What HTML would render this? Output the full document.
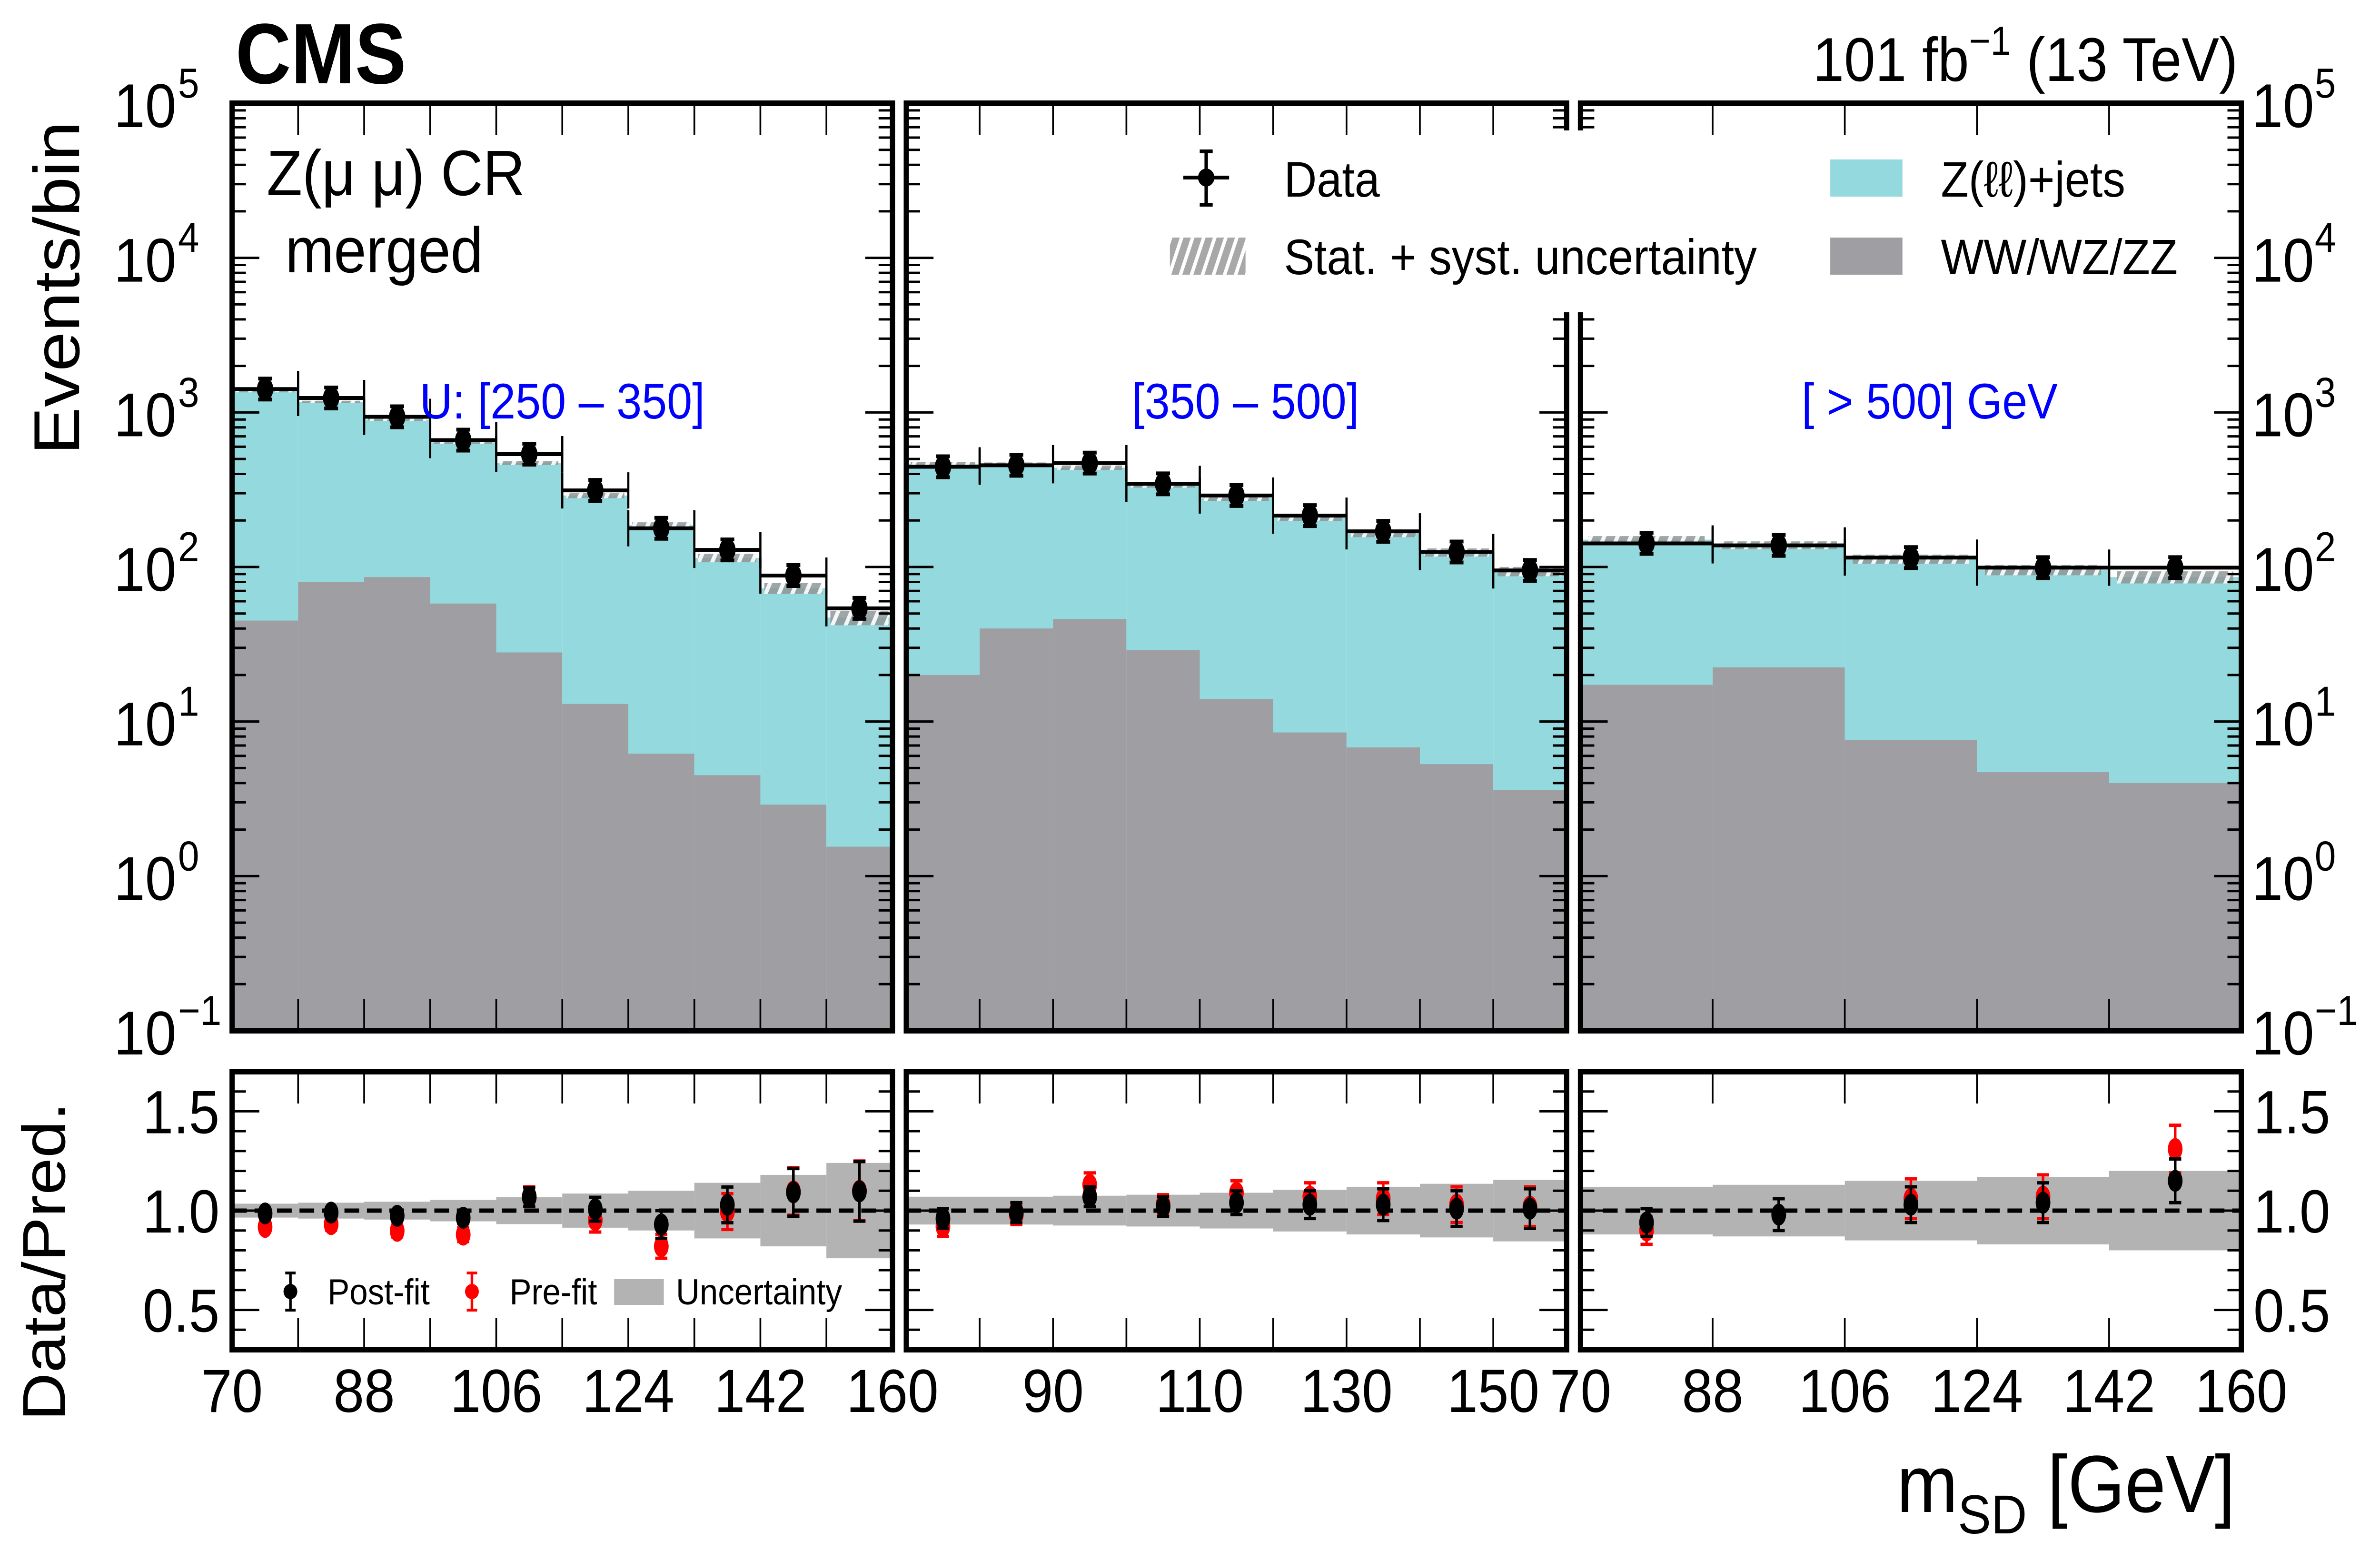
<!DOCTYPE html>
<html><head><meta charset="utf-8">
<style>
html,body{margin:0;padding:0;background:#fff;overflow:hidden;}
svg{display:block;font-family:"Liberation Sans",sans-serif;width:100vw;height:100vh;}
</style></head>
<body>
<svg id="chart" viewBox="0 0 5507 3258" preserveAspectRatio="none" xmlns="http://www.w3.org/2000/svg">
<defs>
<pattern id="hatch" patternUnits="userSpaceOnUse" width="28" height="28" patternTransform="rotate(25)">
<rect width="28" height="28" fill="#8e9698" fill-opacity="0.85"/>
<rect x="0" y="0" width="9" height="28" fill="#ffffff" fill-opacity="0.9"/>
</pattern>
<pattern id="hatchLeg" patternUnits="userSpaceOnUse" width="24" height="24" patternTransform="rotate(20)">
<rect width="24" height="24" fill="#a8a8a8"/>
<rect x="0" y="0" width="8" height="24" fill="#ffffff"/>
</pattern>
</defs>
<g id="plots"></g>
<rect x="3550" y="274" width="180" height="382" fill="#fff"/>
<g id="labels">
<text x="545" y="175" font-size="180" font-weight="bold" textLength="395" lengthAdjust="spacingAndGlyphs">CMS</text>
<text x="5178" y="170" font-size="130" text-anchor="end">101 fb<tspan font-size="85" dy="-55">−1</tspan><tspan dy="55"> (13 TeV)</tspan></text>
<text x="617" y="410" font-size="135">Z(μ μ) CR</text>
<text x="660" y="572" font-size="135">merged</text>
<text transform="translate(183,605) rotate(-90)" font-size="150" text-anchor="middle">Events/bin</text>
<text transform="translate(150,2650) rotate(-90)" font-size="140" text-anchor="middle">Data/Pred.</text>
<text x="5172" y="3176" font-size="170" text-anchor="end">m<tspan font-size="115" dy="45">SD</tspan><tspan dy="-45"> [GeV]</tspan></text>
<text x="1301" y="879" font-size="105" fill="#0000ff" text-anchor="middle">U: [250 – 350]</text>
<text x="2882" y="879" font-size="105" fill="#0000ff" text-anchor="middle">[350 – 500]</text>
<text x="4465" y="879" font-size="105" fill="#0000ff" text-anchor="middle">[ &gt; 500] GeV</text>
</g>
<g id="legend">
<g>
<line x1="2791" y1="318" x2="2791" y2="430" stroke="#000" stroke-width="8"/>
<line x1="2776" y1="318" x2="2806" y2="318" stroke="#000" stroke-width="8"/>
<line x1="2776" y1="430" x2="2806" y2="430" stroke="#000" stroke-width="8"/>
<line x1="2738" y1="373" x2="2844" y2="373" stroke="#000" stroke-width="8"/>
<circle cx="2791" cy="373" r="19" fill="#000"/>
<text x="2971" y="413" font-size="105">Data</text>
</g>
<g>
<rect x="2707" y="499" width="175" height="78" fill="url(#hatchLeg)"/>
<text x="2971" y="576" font-size="105">Stat. + syst. uncertainty</text>
</g>
<g>
<rect x="4235" y="335" width="167" height="78" fill="#94d9de"/>
<text x="4491" y="413" font-size="105">Z(ℓℓ)+jets</text>
</g>
<g>
<rect x="4235" y="499" width="167" height="78" fill="#9e9ea3"/>
<text x="4491" y="576" font-size="105">WW/WZ/ZZ</text>
</g>
<g>
<line x1="672" y1="2674" x2="672" y2="2752" stroke="#000" stroke-width="6"/>
<line x1="660" y1="2674" x2="684" y2="2674" stroke="#000" stroke-width="6"/>
<line x1="660" y1="2752" x2="684" y2="2752" stroke="#000" stroke-width="6"/>
<circle cx="672" cy="2713" r="16" fill="#000"/>
<text x="758" y="2740" font-size="76">Post-fit</text>
</g>
<g>
<line x1="1092" y1="2674" x2="1092" y2="2752" stroke="#f00" stroke-width="6"/>
<line x1="1080" y1="2674" x2="1104" y2="2674" stroke="#f00" stroke-width="6"/>
<line x1="1080" y1="2752" x2="1104" y2="2752" stroke="#f00" stroke-width="6"/>
<circle cx="1092" cy="2713" r="16" fill="#f00"/>
<text x="1179" y="2740" font-size="76">Pre-fit</text>
</g>
<g>
<rect x="1421" y="2687" width="115" height="54" fill="#b3b3b3"/>
<text x="1564" y="2740" font-size="76">Uncertainty</text>
</g>
</g>
</svg>
<script>
// ---- data ----
const binEdges1 = [70,79,88,97,106,115,124,133,142,151,160];
const binEdges2 = [70,80,90,100,110,120,130,140,150,160];
const binEdges3 = [70,88,106,124,142,160];
const dataP1 = [1416,1240,937,662,537,313,178,129,88,54];
const zjetsP1 = [1325,1090,814,582,443,277,180,110,70,45.5];
const vvP1 = [45,80,86,58,28,13,6.2,4.5,2.9,1.55];
const dataP2 = [445,455,470,345,290,215,170,125,95];
const zjetsP2 = [443,420,393,309,265,200,158,119,90];
const vvP2 = [20,40,46,29,14,8.5,6.8,5.3,3.6];
const dataP3 = [142,138,115,99,99];
const zjetsP3 = [133,116,105,91,82];
const vvP3 = [17.3,22.4,7.6,4.7,4.0];
const postP1 = [0.986,0.99,0.974,0.964,1.068,1.007,0.93,1.029,1.092,1.097];
const postErrP1 = [0.02,0.025,0.025,0.03,0.047,0.06,0.07,0.09,0.12,0.15];
const preP1 = [0.918,0.932,0.898,0.879,1.07,0.952,0.82,0.995,1.097,1.10];
const preErrP1 = [0.025,0.03,0.03,0.035,0.05,0.06,0.06,0.09,0.12,0.15];
const bandP1 = [0.035,0.04,0.045,0.054,0.068,0.086,0.1,0.14,0.18,0.24];
const postP2 = [0.96,0.99,1.07,1.02,1.04,1.03,1.03,1.01,1.01];
const postErrP2 = [0.05,0.05,0.05,0.05,0.06,0.07,0.08,0.09,0.1];
const preP2 = [0.92,0.98,1.13,1.03,1.09,1.07,1.06,1.03,1.02];
const preErrP2 = [0.05,0.05,0.06,0.05,0.06,0.07,0.08,0.09,0.1];
const bandP2 = [0.07,0.07,0.075,0.08,0.09,0.105,0.12,0.135,0.155];
const postP3 = [0.94,0.98,1.03,1.04,1.15];
const postErrP3 = [0.07,0.08,0.09,0.1,0.11];
const preP3 = [0.9,0.98,1.06,1.07,1.31];
const preErrP3 = [0.07,0.08,0.1,0.11,0.12];
const bandP3 = [0.12,0.13,0.15,0.17,0.2];
const xLabels1 = [70,88,106,124,142,160];
const xLabels2 = [90,110,130,150];
const xLabels3 = [70,88,106,124,142,160];
const yDecades = [-1,0,1,2,3,4,5];
const ratioLabels = [0.5,1.0,1.5];

const NS = "http://www.w3.org/2000/svg";
const root = document.getElementById('plots');
function mk(tag, attrs, parent){const e=document.createElementNS(NS,tag);for(const k in attrs)e.setAttribute(k,attrs[k]);(parent||root).appendChild(e);return e;}

const TOP_Y0=217, TOP_Y1=2165, R_Y0=2251, R_Y1=2835;
const LOGMIN=-1, LOGMAX=5;
function yTop(v){const l=Math.log10(Math.max(v,1e-3));return TOP_Y1-(l-LOGMIN)/(LOGMAX-LOGMIN)*(TOP_Y1-TOP_Y0);}
function yRat(r){return R_Y1-(r-0.3)/(1.4)*(R_Y1-R_Y0);}

const panels = [
 {x0:537,x1:2065,edges:binEdges1,data:dataP1,zj:zjetsP1,vv:vvP1,post:postP1,postE:postErrP1,pre:preP1,preE:preErrP1,band:bandP1,lab:xLabels1,minor:9},
 {x0:2097,x1:3625,edges:binEdges2,data:dataP2,zj:zjetsP2,vv:vvP2,post:postP2,postE:postErrP2,pre:preP2,preE:preErrP2,band:bandP2,lab:xLabels2,minor:10},
 {x0:3657,x1:5186,edges:binEdges3,data:dataP3,zj:zjetsP3,vv:vvP3,post:postP3,postE:postErrP3,pre:preP3,preE:preErrP3,band:bandP3,lab:xLabels3,minor:18}
];

panels.forEach((p,pi)=>{
  const xs=v=>p.x0+(v-70)/90*(p.x1-p.x0);
  const g=mk('g',{});
  
  
  const n=p.data.length;
  for(let i=0;i<n;i++){
    const xa=xs(p.edges[i]), xb=xs(p.edges[i+1]);
    const tot=p.zj[i]+p.vv[i];
    const r1=mk('rect',{x:xa,y:yTop(tot),width:xb-xa,height:TOP_Y1-yTop(tot),fill:'#94d9de'},g);
    
    
    const r2=mk('rect',{x:xa,y:yTop(p.vv[i]),width:xb-xa,height:TOP_Y1-yTop(p.vv[i]),fill:'#9e9ea3'},g);
    
    
    const u=p.band[i]*0.45;
    const hb=mk('rect',{x:xa+(xb-xa)*0.06,y:yTop(tot*(1+u)),width:(xb-xa)*0.88,height:yTop(tot*(1-u))-yTop(tot*(1+u)),fill:'url(#hatch)'},g);
    
    
  }
  for(let i=0;i<n;i++){
    const xa=xs(p.edges[i]), xb=xs(p.edges[i+1]);
    const b=mk('rect',{x:xa,y:yRat(1+p.band[i]),width:xb-xa,height:yRat(1-p.band[i])-yRat(1+p.band[i]),fill:'#b3b3b3'},g);
    
    
  }
  const dl=mk('line',{x1:p.x0,y1:yRat(1),x2:p.x1,y2:yRat(1),stroke:'#000','stroke-width':9,'stroke-dasharray':'34 18'},g);
  
  
  for(let i=0;i<n;i++){
    const xa=xs(p.edges[i]), xb=xs(p.edges[i+1]), xc=(xa+xb)/2;
    const v=p.data[i], e=Math.sqrt(v);
    const yc=yTop(v), yu=yTop(v+e), yd=yTop(v-e);
    const dg=mk('g',{},g);
    
    
    mk('line',{x1:xa,y1:yc,x2:xb,y2:yc,stroke:'#000','stroke-width':8},dg);
    mk('line',{x1:xa,y1:yc-38,x2:xa,y2:yc+38,stroke:'#000','stroke-width':5},dg);
    mk('line',{x1:xb,y1:yc-38,x2:xb,y2:yc+38,stroke:'#000','stroke-width':5},dg);
    mk('line',{x1:xc,y1:Math.min(yu,yc-22),x2:xc,y2:Math.max(yd,yc+22),stroke:'#000','stroke-width':8},dg);
    mk('line',{x1:xc-16,y1:Math.min(yu,yc-22),x2:xc+16,y2:Math.min(yu,yc-22),stroke:'#000','stroke-width':8},dg);
    mk('line',{x1:xc-16,y1:Math.max(yd,yc+22),x2:xc+16,y2:Math.max(yd,yc+22),stroke:'#000','stroke-width':8},dg);
    mk('ellipse',{cx:xc,cy:yc,rx:19,ry:24,fill:'#000'},dg);
  }
  [[p.pre,p.preE,'#f00','prefit-point'],[p.post,p.postE,'#000','postfit-point']].forEach(([vals,errs,col,nm])=>{
    for(let i=0;i<n;i++){
      const xc=(xs(p.edges[i])+xs(p.edges[i+1]))/2;
      const yc=yRat(vals[i]), yu=yRat(vals[i]+errs[i]), yd=yRat(vals[i]-errs[i]);
      const rg=mk('g',{},g);
      
      
      mk('line',{x1:xc,y1:yu,x2:xc,y2:yd,stroke:col,'stroke-width':6},rg);
      mk('line',{x1:xc-14,y1:yu,x2:xc+14,y2:yu,stroke:col,'stroke-width':7},rg);
      mk('line',{x1:xc-14,y1:yd,x2:xc+14,y2:yd,stroke:col,'stroke-width':7},rg);
      mk('ellipse',{cx:xc,cy:yc,rx:17,ry:23,fill:col},rg);
    }
  });
  for(let v=70+p.minor; v<160; v+=p.minor){
    const x=xs(v);
    mk('line',{x1:x,y1:TOP_Y0,x2:x,y2:TOP_Y0+67,stroke:'#000','stroke-width':4},g);
    mk('line',{x1:x,y1:R_Y0,x2:x,y2:R_Y0+67,stroke:'#000','stroke-width':4},g);
    mk('line',{x1:x,y1:R_Y1,x2:x,y2:R_Y1-67,stroke:'#000','stroke-width':4},g);
    mk('line',{x1:x,y1:TOP_Y1,x2:x,y2:TOP_Y1-67,stroke:'#000','stroke-width':4},g);
  }
  for(let d=-1; d<5; d++){
    for(let m=1;m<10;m++){
      const y=yTop(m*Math.pow(10,d));
      const L=(m===1)?63:32;
      if(m===1 && d===-1) continue;
      mk('line',{x1:p.x0,y1:y,x2:p.x0+L,y2:y,stroke:'#000','stroke-width':5},g);
      mk('line',{x1:p.x1,y1:y,x2:p.x1-L,y2:y,stroke:'#000','stroke-width':5},g);
    }
  }
  for(let k=4;k<=16;k++){
    const r=k/10;
    const y=yRat(r);
    const L=(k%5===0)?63:32;
    mk('line',{x1:p.x0,y1:y,x2:p.x0+L,y2:y,stroke:'#000','stroke-width':5},g);
    mk('line',{x1:p.x1,y1:y,x2:p.x1-L,y2:y,stroke:'#000','stroke-width':5},g);
  }
  const f1=mk('rect',{x:p.x0,y:TOP_Y0,width:p.x1-p.x0,height:TOP_Y1-TOP_Y0,fill:'none',stroke:'#000','stroke-width':12},g);
  
  
  const f2=mk('rect',{x:p.x0,y:R_Y0,width:p.x1-p.x0,height:R_Y1-R_Y0,fill:'none',stroke:'#000','stroke-width':12},g);
  
  
  p.lab.forEach(v=>{
    const t=mk('text',{x:xs(v),y:2966,'font-size':128,'text-anchor':'middle'},g);
    
    
    t.textContent=v;
  });
});

yDecades.forEach(d=>{
  const y=yTop(Math.pow(10,d));
  [[468,'end'],[5210,'start']].forEach(([x,anc])=>{
    const t=mk('text',{x:(anc==='end'?x-60:x),y:y+50,'font-size':130,'text-anchor':anc});
    
    
    t.textContent='10';
    const s=mk('text',{x:(anc==='end'?x-56:x+146),y:y-12,'font-size':88,'text-anchor':'start'});
    
    
    s.textContent=(d<0?'−1':String(d));
  });
});
ratioLabels.forEach(r=>{
  const y=yRat(r);
  const t=mk('text',{x:508,y:y+46,'font-size':128,'text-anchor':'end'});
  
  
  t.textContent=r.toFixed(1);
  const t2=mk('text',{x:5214,y:y+46,'font-size':128,'text-anchor':'start'});
  
  
  t2.textContent=r.toFixed(1);
});
</script>
</body></html>
